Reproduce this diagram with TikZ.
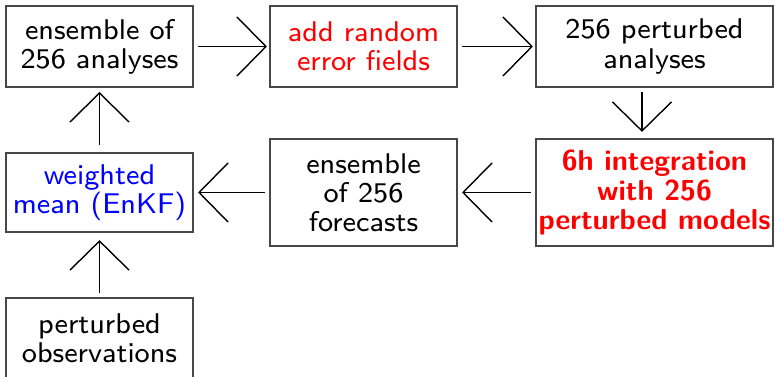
\documentclass[tikz,border=0pt]{standalone}
\usepackage{fontspec}
\usetikzlibrary{arrows.meta}
\begin{document}
\begin{tikzpicture}[x=0.01cm, y=-0.01cm,
  box/.style={draw=black!72, line width=0.4pt, inner sep=0pt, outer sep=0pt,
    minimum width=1.87cm, minimum height=0.81cm, align=center,
    font=\sffamily\fontsize{8.1pt}{8.3pt}\selectfont},
  widebox/.style={box, minimum width=2.37cm},
  flow/.style={line width=0.4pt, -{Straight Barb[length=0.29cm, width=0.59cm, line width=0.4pt]},
    shorten <=1.42pt},
]
\useasboundingbox (0,0) rectangle (775,377);

% first row
\node[box] (ens) at (99.5,46.5) {ensemble of\\256 analyses};
\node[box, text=red] (add) at (363.5,46.5) {add random\\error fields};
\node[widebox] (pert) at (654.5,46.5) {256 perturbed\\analyses};

% second row
\node[widebox, minimum height=1.07cm, text=red, font=\sffamily\bfseries\fontsize{8.2pt}{8.3pt}\selectfont]
  (integ) at (654.5,192.5) {6h integration\\with 256\\perturbed models};
\node[box, minimum height=1.07cm] (fc) at (363.5,192.5) {ensemble\\of 256\\forecasts};
\node[box, minimum height=0.79cm, text=blue] (mean) at (99.5,192.5) {weighted\\mean (EnKF)};

% observations
\node[box] (obs) at (99.5,338.5) {perturbed\\observations};

% connectors
\draw[flow, shorten >=0.85pt] (ens) -- (add);
\draw[flow, shorten >=0.85pt] (add) -- (pert);
\draw[flow, shorten >=2pt] ([xshift=-0.125cm]pert.south) -- ([xshift=-0.125cm]integ.north);
\draw[flow, shorten >=1.42pt] (integ) -- (fc);
\draw[flow, shorten >=1.42pt] (fc) -- (mean);
\draw[flow, shorten <=2.3pt, shorten >=1.42pt] (mean) -- (ens);
\draw[flow, shorten >=2.3pt] (obs) -- (mean);
\end{tikzpicture}
\end{document}
